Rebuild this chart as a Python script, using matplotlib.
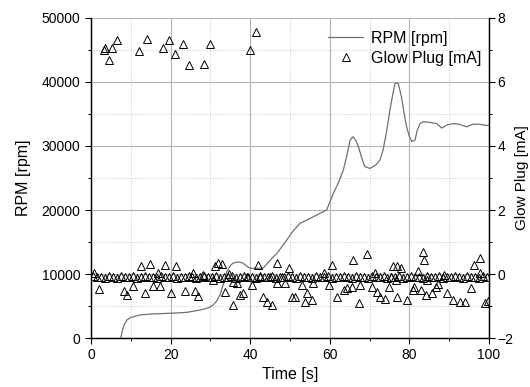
import matplotlib
matplotlib.use("Agg")
import matplotlib.pyplot as plt
from matplotlib.ticker import MultipleLocator
from matplotlib.lines import Line2D

plt.rcParams['font.family'] = ['Liberation Sans', 'DejaVu Sans']

# RPM trace
rpm_time = [7.5, 7.8, 8.3, 9.0, 10.0, 12.3, 15.0, 19.8, 24.0, 27.4, 29.5, 30.7, 31.6,
            32.4, 33.3, 34.1, 35.0, 35.7, 37.0, 38.2, 39.2, 40.0, 43.2, 44.5, 46.0,
            46.7, 48.0, 49.2, 50.5, 52.5, 55.9, 59.2, 60.9, 62.2, 63.4, 64.3, 65.1,
            65.8, 66.5, 67.2, 68.0, 68.8, 70.1, 71.5, 72.6, 73.4, 74.2, 75.1, 75.8,
            76.4, 77.2, 78.0, 78.7, 79.3, 80.0, 80.6, 81.4, 82.0, 82.7, 83.5, 85.0,
            86.9, 88.1, 89.5, 91.0, 92.5, 94.4, 96.0, 97.7, 99.4, 100.0]
rpm_value = [0, 1000, 2000, 2800, 3200, 3600, 3750, 3860, 4000, 4375, 4700, 5150, 5800,
             6700, 8500, 10360, 11300, 11700, 11900, 11700, 11200, 10900, 10900, 11800, 12800,
             13200, 14300, 15300, 16500, 17900, 18950, 20000, 22600, 24300, 26250, 28500, 30900,
             31450, 30900, 29900, 28200, 26770, 26500, 27000, 27800, 29400, 32000, 35600, 38000,
             39800, 39800, 37700, 35000, 33000, 31500, 30700, 30900, 32500, 33500, 33800, 33700,
             33500, 32800, 33300, 33500, 33400, 33000, 33400, 33400, 33200, 33300]

# Glow plug samples: baseline row
glow_base_time = [0.5, 1.5, 2.5, 3.5, 4.5, 5.5, 6.5, 7.5, 8.5, 9.5,
                  10.5, 11.5, 12.5, 13.5, 14.5, 15.5, 16.5, 17.5, 18.5, 19.5,
                  20.5, 21.5, 22.5, 23.5, 24.5, 25.5, 26.5, 27.5, 28.5, 29.5,
                  30.5, 31.5, 32.5, 33.5, 34.5, 35.5, 36.5, 37.5, 38.5, 39.5,
                  40.5, 41.5, 42.5, 43.5, 44.5, 45.5, 46.5, 47.5, 48.5, 49.5,
                  50.5, 51.5, 52.5, 53.5, 54.5, 55.5, 56.5, 57.5, 58.5, 59.5,
                  60.5, 61.5, 62.5, 63.5, 64.5, 65.5, 66.5, 67.5, 68.5, 69.5,
                  70.5, 71.5, 72.5, 73.5, 74.5, 75.5, 76.5, 77.5, 78.5, 79.5,
                  80.5, 81.5, 82.5, 83.5, 84.5, 85.5, 86.5, 87.5, 88.5, 89.5,
                  90.5, 91.5, 92.5, 93.5, 94.5, 95.5, 96.5, 97.5, 98.5, 99.5]
glow_base_value = [-0.05, -0.10, -0.08, -0.12, -0.06, -0.09, -0.11, -0.07, -0.10, -0.08,
                   -0.06, -0.12, -0.09, -0.07, -0.10, -0.08, -0.11, -0.06, -0.09, -0.10,
                   -0.07, -0.12, -0.08, -0.10, -0.06, -0.09, -0.11, -0.08, -0.07, -0.10,
                   -0.09, -0.06, -0.12, -0.08, -0.10, -0.07, -0.11, -0.09, -0.06, -0.10,
                   -0.08, -0.12, -0.07, -0.10, -0.09, -0.06, -0.11, -0.08, -0.10, -0.07,
                   -0.09, -0.12, -0.06, -0.10, -0.08, -0.11, -0.07, -0.09, -0.10, -0.06,
                   -0.12, -0.08, -0.10, -0.07, -0.09, -0.11, -0.06, -0.10, -0.08, -0.12,
                   -0.07, -0.09, -0.10, -0.06, -0.11, -0.08, -0.10, -0.07, -0.12, -0.09,
                   -0.06, -0.10, -0.08, -0.11, -0.07, -0.09, -0.10, -0.06, -0.12, -0.08,
                   -0.10, -0.07, -0.09, -0.11, -0.06, -0.10, -0.08, -0.12, -0.07, -0.09]

# Glow plug samples: scattered points
glow_time = [3.3, 3.5, 4.6, 5.2, 6.6, 12.1, 14.1, 18.0, 19.6, 21.1, 23.0, 24.5, 28.5, 30.0,
             40.0, 41.5,
             0.8, 2.0, 8.3, 9.1, 10.6, 12.6, 13.5, 14.7, 15.6, 16.8, 17.3, 18.5, 20.2, 21.4,
             23.5, 25.7, 26.1, 26.8, 28.2, 30.6, 31.2, 32.0, 32.8, 33.7, 34.7, 35.6, 35.8,
             36.6, 37.4, 38.3, 39.3, 40.4, 42.0, 42.5, 43.3, 44.1, 45.0, 45.4, 46.7, 46.8,
             47.9, 48.7, 49.8, 50.4, 51.3, 53.0, 53.8, 54.3, 55.5, 55.8, 58.5, 59.7, 60.6,
             61.8, 63.5, 64.3, 65.6, 65.8, 67.3, 67.7, 69.3, 70.6, 71.3, 71.9, 72.7, 73.9,
             74.8, 75.3, 76.0, 76.7, 76.9, 77.0, 78.0, 79.5, 80.8, 81.2, 82.2, 82.8, 83.5,
             83.7, 84.1, 84.5, 85.8, 86.6, 87.1, 88.7, 89.5, 91.0, 92.7, 94.1, 95.6, 96.2,
             97.7, 97.8, 98.9, 99.8]
glow_value = [7.0, 7.05, 6.7, 7.05, 7.3, 6.98, 7.34, 7.07, 7.31, 6.87, 7.2, 6.52, 6.56, 7.19,
              7.0, 7.56,
              0.04, -0.48, -0.52, -0.66, -0.38, 0.25, -0.58, 0.31, -0.38, 0.04, -0.38, 0.28,
              -0.58, 0.25, -0.52, 0.02, -0.52, -0.7, -0.03, -0.19, 0.25, 0.34, 0.31, -0.55,
              0.0, -0.24, -0.97, -0.29, -0.66, -0.6, -0.08, -0.34, 0.28, -0.08, -0.71, -0.87,
              -0.08, -0.97, -0.29, 0.35, -0.08, -0.29, 0.18, -0.71, -0.71, -0.34, -0.87, -0.6,
              -0.81, -0.27, 0.02, -0.34, 0.28, -0.71, -0.5, -0.45, -0.4, 0.44, -0.9, -0.34,
              0.62, -0.4, 0.04, -0.55, -0.71, -0.79, -0.4, -0.08, 0.25, -0.2, 0.25, -0.71,
              0.18, -0.81, -0.5, -0.4, 0.1, -0.5, 0.7, 0.44, -0.66, -0.19, -0.6, -0.4, -0.3,
              -0.03, -0.6, -0.81, -0.87, -0.87, -0.45, 0.28, 0.49, 0.04, -0.9, -0.85]

fig = plt.figure(figsize=(5.3, 3.87), dpi=100)
ax = fig.add_axes([0.1717, 0.1266, 0.7509, 0.8269])
ax2 = ax.twinx()

ax.plot(rpm_time, rpm_value, color='#707070', lw=0.9)
mk = dict(marker='^', ls='none', ms=5.5, mfc='none', mec='black', mew=0.7)
ax2.plot(glow_base_time, glow_base_value, **mk)
ax2.plot(glow_time, glow_value, **mk)

ax.set_xlim(0, 100)
ax.set_ylim(0, 50000)
ax2.set_ylim(-2, 8)

ax.xaxis.set_major_locator(MultipleLocator(20))
ax.xaxis.set_minor_locator(MultipleLocator(10))
ax.yaxis.set_major_locator(MultipleLocator(10000))
ax.yaxis.set_minor_locator(MultipleLocator(5000))
ax2.yaxis.set_major_locator(MultipleLocator(2))
ax2.yaxis.set_minor_locator(MultipleLocator(1))

ax.grid(which='major', color='#b4b4b4', lw=0.8, ls='-')
ax.grid(which='minor', color='#c8c8c8', lw=0.7, ls=':')
ax.set_axisbelow(True)

for a in (ax, ax2):
    a.spines['top'].set_visible(False)
    for s in a.spines.values():
        s.set_linewidth(0.9)
ax.tick_params(which='major', direction='out', length=4, width=0.8, labelsize=10)
ax.tick_params(which='minor', direction='out', length=2.5, width=0.7)
ax2.tick_params(which='major', direction='out', length=4, width=0.8, labelsize=10, pad=2)
ax2.tick_params(which='minor', direction='out', length=2.5, width=0.7)

ax.set_xlabel('Time [s]', fontsize=11.5, labelpad=3)
ax.set_ylabel('RPM [rpm]', fontsize=11.5, labelpad=8)
ax2.set_ylabel('Glow Plug [mA]', fontsize=11, labelpad=1)

handles = [Line2D([], [], color='#707070', lw=0.9),
           Line2D([], [], **mk)]
ax2.legend(handles, ['RPM [rpm]', 'Glow Plug [mA]'], loc='upper right',
           bbox_to_anchor=(1.0, 0.985), frameon=False, fontsize=11.5,
           handlelength=2.2, handletextpad=0.45, labelspacing=0.3, borderaxespad=0.1)

fig.savefig('out.png', dpi=100)
